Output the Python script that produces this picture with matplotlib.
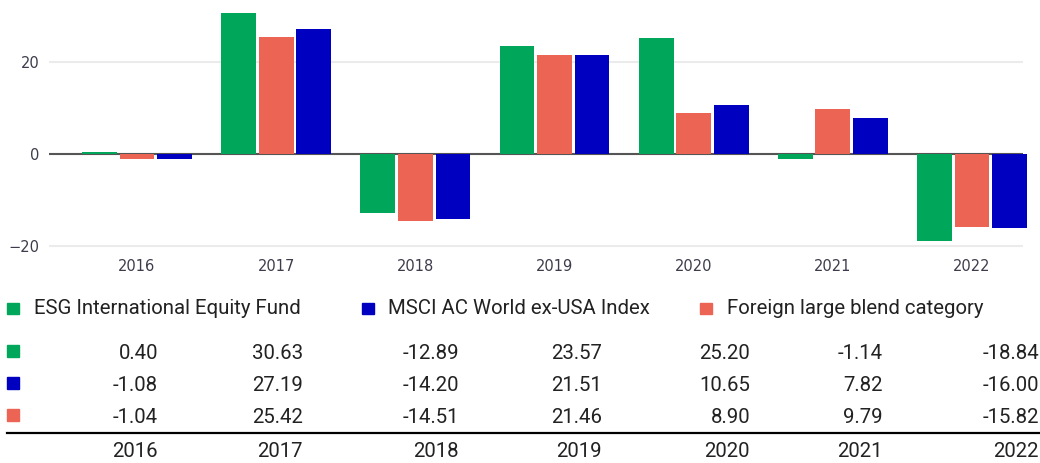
import matplotlib
matplotlib.use("Agg")
import matplotlib.pyplot as plt
from matplotlib.patches import Rectangle
from matplotlib.lines import Line2D
import numpy as np

years = ["2016", "2017", "2018", "2019", "2020", "2021", "2022"]
esg_fund = [0.40, 30.63, -12.89, 23.57, 25.20, -1.14, -18.84]
msci_index = [-1.08, 27.19, -14.20, 21.51, 10.65, 7.82, -16.00]
foreign_blend = [-1.04, 25.42, -14.51, 21.46, 8.90, 9.79, -15.82]

GREEN = "#00a659"
BLUE = "#0000c0"
SALMON = "#ec6554"

W, H = 1040, 463
TEXT_FONT = ["Roboto", "DejaVu Sans"]
TEXT_SIZE = 14.7


def px(x):
    return x / W


def py(y):
    return 1 - y / H


fig = plt.figure(figsize=(W / 100, H / 100), dpi=100)

# bar chart, placed in pixel terms
ax = fig.add_axes([px(49), py(252), px(1023 - 49), 252 / H])
x = np.arange(len(years))
bar_w = 0.25
# bars are drawn green, salmon, blue inside each year
for off, vals, col in [(-0.27, esg_fund, GREEN), (0.0, foreign_blend, SALMON), (0.27, msci_index, BLUE)]:
    ax.bar(x + off, vals, width=bar_w, color=col, zorder=3, clip_on=False)

ax.axhline(0, color="#555555", lw=1.5, zorder=2)
ax.set_xlim(-0.632, 6.366)
ax.set_ylim(-21.3, 33.48)
ax.set_yticks([-20, 0, 20])
ax.set_xticks(x)
ax.set_xticklabels(years)
ax.yaxis.grid(True, color="#ebebeb", lw=1.5, zorder=0)
ax.set_axisbelow(True)
for s in ax.spines.values():
    s.set_visible(False)
ax.tick_params(length=0, labelsize=10.5, labelcolor="#3c3c4c")
ax.tick_params(axis="y", pad=7)
ax.tick_params(axis="x", pad=5)

# legend row
legend = [("ESG International Equity Fund", GREEN, 7, 34),
          ("MSCI AC World ex-USA Index", BLUE, 362, 388),
          ("Foreign large blend category", SALMON, 700, 727)]
for name, col, mx, tx in legend:
    fig.patches.append(Rectangle((px(mx), py(314)), 12 / W, 11 / H, color=col,
                                 transform=fig.transFigure, figure=fig))
    fig.text(px(tx), py(314), name, ha="left", va="baseline", fontsize=TEXT_SIZE,
             family=TEXT_FONT, color="#222222")

# data table
col_right = [158, 303, 459, 602, 750, 883, 1039]
rows = [(esg_fund, GREEN, 359), (msci_index, BLUE, 391), (foreign_blend, SALMON, 423)]
for vals, col, base in rows:
    fig.patches.append(Rectangle((px(7), py(base - 2)), 12 / W, 12 / H, color=col,
                                 transform=fig.transFigure, figure=fig))
    for v, cx in zip(vals, col_right):
        fig.text(px(cx), py(base), "%.2f" % v, ha="right", va="baseline", fontsize=TEXT_SIZE,
                 family=TEXT_FONT, color="#222222")

fig.lines.append(Line2D([px(7), px(1040)], [py(433), py(433)], color="black", lw=1.6,
                        transform=fig.transFigure, figure=fig))
for yr, cx in zip(years, col_right):
    fig.text(px(cx), py(457), yr, ha="right", va="baseline", fontsize=TEXT_SIZE,
             family=TEXT_FONT, color="#222222")

fig.savefig("out.png", dpi=100)
